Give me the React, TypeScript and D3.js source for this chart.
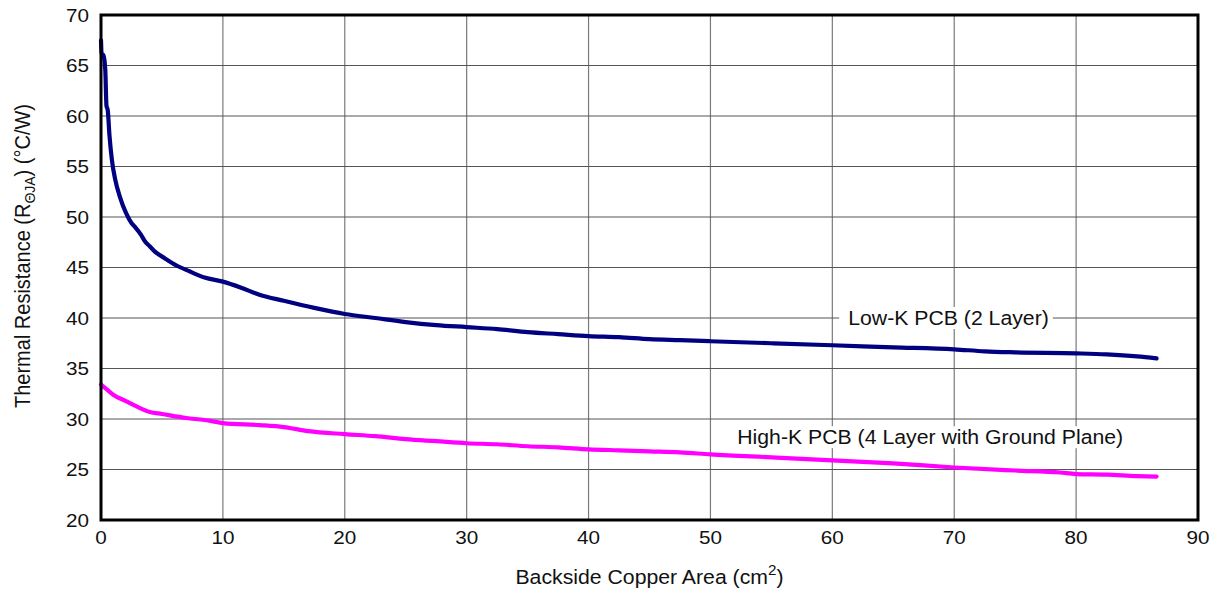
import * as d3 from 'd3'
import { FC } from 'react'

const WIDTH = 1218
const HEIGHT = 596
const MARGIN = { top: 15, right: 20, bottom: 76, left: 101 }
// the source image is slightly stretched horizontally
const SX = 1.09

const X_DOMAIN = [0, 90]
const Y_DOMAIN = [20, 70]
const X_TICKS = [0, 10, 20, 30, 40, 50, 60, 70, 80, 90]
const Y_TICKS = [20, 25, 30, 35, 40, 45, 50, 55, 60, 65, 70]

// Low-K PCB (2 Layer)
const LOWK_X = [0, 0.05, 0.2, 0.35, 0.45, 0.55, 0.7, 0.9, 1.15, 1.55, 2.05, 2.5, 2.8, 3.3, 3.6, 4.0, 4.4, 5.25, 6.2, 7.3, 8.5, 10, 11.5, 13, 15, 17.5, 20, 22.5, 25, 27.5, 30, 32.5, 35, 37.5, 40, 42.5, 45, 47.5, 50, 55, 60, 65, 70, 72.5, 75, 80, 82.5, 85, 86.6]
const LOWK_Y = [67.5, 66.2, 66.0, 64.6, 61.0, 60.6, 58.0, 55.6, 53.8, 52.0, 50.4, 49.4, 49.0, 48.2, 47.6, 47.1, 46.6, 45.9, 45.2, 44.6, 44.0, 43.6, 43.0, 42.3, 41.7, 41.0, 40.4, 40.0, 39.6, 39.3, 39.1, 38.9, 38.6, 38.4, 38.2, 38.1, 37.9, 37.8, 37.7, 37.5, 37.3, 37.1, 36.9, 36.7, 36.6, 36.5, 36.4, 36.2, 36.0]

// High-K PCB (4 Layer with Ground Plane)
const HIGHK_X = [0, 0.5, 1, 2, 3, 4, 5, 7, 8.5, 10, 13, 15, 17, 20, 22.5, 25, 27.5, 30, 32.5, 35, 37.5, 40, 42.5, 45, 47.5, 50, 55, 60, 65, 70, 75, 78.7, 80, 82.5, 85, 86.6]
const HIGHK_Y = [33.4, 32.9, 32.4, 31.8, 31.2, 30.7, 30.5, 30.1, 29.9, 29.6, 29.4, 29.2, 28.8, 28.5, 28.3, 28.0, 27.8, 27.6, 27.5, 27.3, 27.2, 27.0, 26.9, 26.8, 26.7, 26.5, 26.2, 25.9, 25.6, 25.2, 24.9, 24.7, 24.55, 24.5, 24.35, 24.3]

const SERIES = [
  { key: 'lowk', xs: LOWK_X, ys: LOWK_Y, color: '#000080' },
  { key: 'highk', xs: HIGHK_X, ys: HIGHK_Y, color: '#ff00ff' },
]

const LABELS = [
  { text: 'Low-K PCB (2 Layer)', x: 61.3, y: 40 },
  { text: 'High-K PCB (4 Layer with Ground Plane)', x: 52.2, y: 28.2 },
]

const FONT = '"Liberation Sans", Arial, sans-serif'
const TXT = '#111'

const App: FC = () => {
  const boundsWidth = WIDTH - MARGIN.left - MARGIN.right
  const boundsHeight = HEIGHT - MARGIN.top - MARGIN.bottom

  const xScale = d3.scaleLinear().domain(X_DOMAIN).range([0, boundsWidth])
  const yScale = d3.scaleLinear().domain(Y_DOMAIN).range([boundsHeight, 0])

  const line = d3
    .line<[number, number]>()
    .x((d) => xScale(d[0]))
    .y((d) => yScale(d[1]))
    .curve(d3.curveMonotoneX)

  const at = (x: number, y: number) => `translate(${x},${y}) scale(${SX},1)`

  return (
    <svg width={WIDTH} height={HEIGHT} style={{ position: 'absolute', left: 0, top: 0 }}>
      <rect width={WIDTH} height={HEIGHT} fill='white' />
      <g transform={`translate(${MARGIN.left},${MARGIN.top})`} fontFamily={FONT}>
        {/* grid */}
        {X_TICKS.map((t) => (
          <line key={'gx' + t} x1={xScale(t)} x2={xScale(t)} y1={0} y2={boundsHeight} stroke='#7a7a7a' strokeWidth={1.2} />
        ))}
        {Y_TICKS.map((t) => (
          <line key={'gy' + t} x1={0} x2={boundsWidth} y1={yScale(t)} y2={yScale(t)} stroke='#555' strokeWidth={1.2} />
        ))}

        {/* series labels with white background */}
        {LABELS.map((l) => (
          <g key={l.text}>
            <rect
              x={xScale(l.x) - 9}
              y={yScale(l.y) - 11}
              width={l.text.length * 10.3 + 18}
              height={22}
              fill='white'
            />
            <text transform={at(xScale(l.x), yScale(l.y))} dominantBaseline='central' fontSize={19.5} fill={TXT}>
              {l.text}
            </text>
          </g>
        ))}

        {/* curves */}
        {SERIES.map((s) => (
          <path
            key={s.key}
            d={line(s.xs.map((x, i) => [x, s.ys[i]] as [number, number])) as string}
            fill='none'
            stroke={s.color}
            strokeWidth={4.2}
            strokeLinejoin='round'
            strokeLinecap='round'
          />
        ))}

        {/* frame */}
        <rect x={0} y={0} width={boundsWidth} height={boundsHeight} fill='none' stroke='black' strokeWidth={3} />

        {/* x ticks */}
        {X_TICKS.map((t) => (
          <text key={'tx' + t} transform={at(xScale(t), boundsHeight + 24)} textAnchor='middle' fontSize={19} fill={TXT}>
            {t}
          </text>
        ))}
        {/* y ticks */}
        {Y_TICKS.map((t) => (
          <text key={'ty' + t} transform={at(-12, yScale(t))} textAnchor='end' dominantBaseline='central' fontSize={19} fill={TXT}>
            {t}
          </text>
        ))}

        {/* x title */}
        <text transform={at(xScale(45), boundsHeight + 64)} textAnchor='middle' fontSize={19.5} fill={TXT}>
          Backside Copper Area (cm
          <tspan dy={-9} fontSize={14}>2</tspan>
          <tspan dy={9}>)</tspan>
        </text>

        {/* y title */}
        <text
          transform={`translate(${-71},${241}) scale(${SX},1) rotate(-90)`}
          textAnchor='middle'
          fontSize={20}
          fill={TXT}
        >
          Thermal Resistance (R
          <tspan dy={5} fontSize={14}>ΘJA</tspan>
          <tspan dy={-5}>) (°C/W)</tspan>
        </text>
      </g>
    </svg>
  )
}

export default App
